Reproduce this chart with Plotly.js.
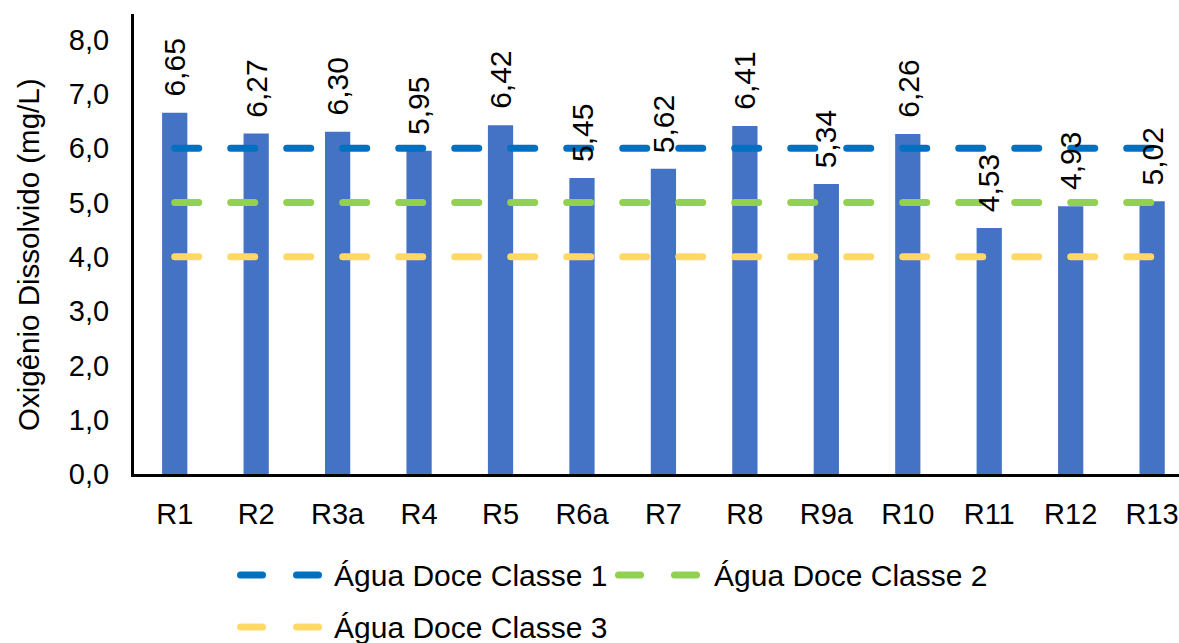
<!DOCTYPE html>
<html>
<head>
<meta charset="utf-8">
<script src="https://cdn.plot.ly/plotly-3.0.1.min.js"></script>
<style>
  html, body { margin: 0; padding: 0; background: #fff; }
  #chart { width: 1179px; height: 643px; }
  .js-line { stroke-linecap: round !important; }
  .shapelayer path { stroke-linecap: round !important; }
</style>
</head>
<body>
<div id="chart"></div>
<script>
const categories = ['R1','R2','R3a','R4','R5','R6a','R7','R8','R9a','R10','R11','R12','R13'];
const oxygenValues = [6.65, 6.27, 6.30, 5.95, 6.42, 5.45, 5.62, 6.41, 5.34, 6.26, 4.53, 4.93, 5.02];
const limitNames = ['Água Doce Classe 1', 'Água Doce Classe 2', 'Água Doce Classe 3'];
const limitValues = [6.0, 5.0, 4.0];
const yAxisTitle = 'Oxigênio Dissolvido (mg/L)';

const limitColors = ['#0070C0', '#92D050', '#FFD966'];
const barColor = '#4472C4';
const FONT = 'Liberation Sans, Arial, sans-serif';

// plot-area geometry (pixels) used for the hand-placed legend and title
const W = 1179, H = 643, ML = 134, MR = 0, MT = 14, MB = 169;
const PW = W - ML - MR, PH = H - MT - MB;
const px2x = p => (p - ML) / PW;
const py2y = p => (H - MB - p) / PH;

const traces = [];
traces.push({
  type: 'bar',
  x: categories,
  y: oxygenValues,
  marker: { color: barColor },
  width: 0.31,
  showlegend: false,
  hoverinfo: 'x+y'
});
limitNames.forEach((name, i) => {
  traces.push({
    type: 'scatter',
    mode: 'lines',
    name: name,
    x: categories,
    y: categories.map(() => limitValues[i]),
    line: { color: limitColors[i], width: 7, dash: '24px,32px' },
    showlegend: false
  });
});

const annotations = categories.map((c, i) => ({
  x: c, y: oxygenValues[i], xref: 'x', yref: 'y',
  text: oxygenValues[i].toFixed(2).replace('.', ','),
  showarrow: false, textangle: -90,
  xanchor: 'center', yanchor: 'bottom', yshift: 14,
  font: { family: FONT, size: 30, color: '#000' }
}));

// y-axis title
annotations.push({
  xref: 'paper', yref: 'paper',
  x: px2x(28), y: py2y(255),
  xanchor: 'center', yanchor: 'middle',
  text: yAxisTitle, textangle: -90, showarrow: false,
  font: { family: FONT, size: 29.5, color: '#000' }
});

// custom legend (two dashes + label), mimicking the original layout
const legendSlots = [
  { sx: 237, tx: 332, y: 575 },
  { sx: 615, tx: 712, y: 575 },
  { sx: 237, tx: 332, y: 627 }
];
const shapes = [];
limitNames.forEach((name, i) => {
  const s = legendSlots[i];
  [[0, 29], [56, 85]].forEach(([a, b]) => {
    shapes.push({
      type: 'line', xref: 'paper', yref: 'paper',
      x0: px2x(s.sx + a + 3.5), x1: px2x(s.sx + b - 3.5),
      y0: py2y(s.y), y1: py2y(s.y),
      line: { color: limitColors[i], width: 7 }
    });
  });
  annotations.push({
    xref: 'paper', yref: 'paper',
    x: px2x(s.tx), y: py2y(s.y),
    xanchor: 'left', yanchor: 'middle',
    text: name, showarrow: false,
    font: { family: FONT, size: 30, color: '#000' }
  });
});

const layout = {
  width: W, height: H,
  margin: { l: ML, r: MR, t: MT, b: MB, pad: 0 },
  paper_bgcolor: '#fff', plot_bgcolor: '#fff',
  separators: ',.',
  font: { family: FONT, size: 28, color: '#000' },
  showlegend: false,
  xaxis: {
    type: 'category',
    range: [-0.5, 12.33],
    showline: true, linecolor: '#000', linewidth: 3,
    ticks: '', showgrid: false, zeroline: false,
    ticklabelstandoff: 12,
    tickfont: { family: FONT, size: 29, color: '#000' },
    fixedrange: true
  },
  yaxis: {
    range: [0, 8.47],
    dtick: 1, tick0: 0,
    tickformat: '.1f',
    showline: true, linecolor: '#000', linewidth: 3,
    ticks: '', showgrid: false, zeroline: false,
    ticklabelstandoff: 16,
    tickfont: { family: FONT, size: 29, color: '#000' },
    automargin: false,
    fixedrange: true
  },
  annotations: annotations,
  shapes: shapes
};

Plotly.newPlot('chart', traces, layout, { staticPlot: true, displayModeBar: false });
</script>
</body>
</html>
